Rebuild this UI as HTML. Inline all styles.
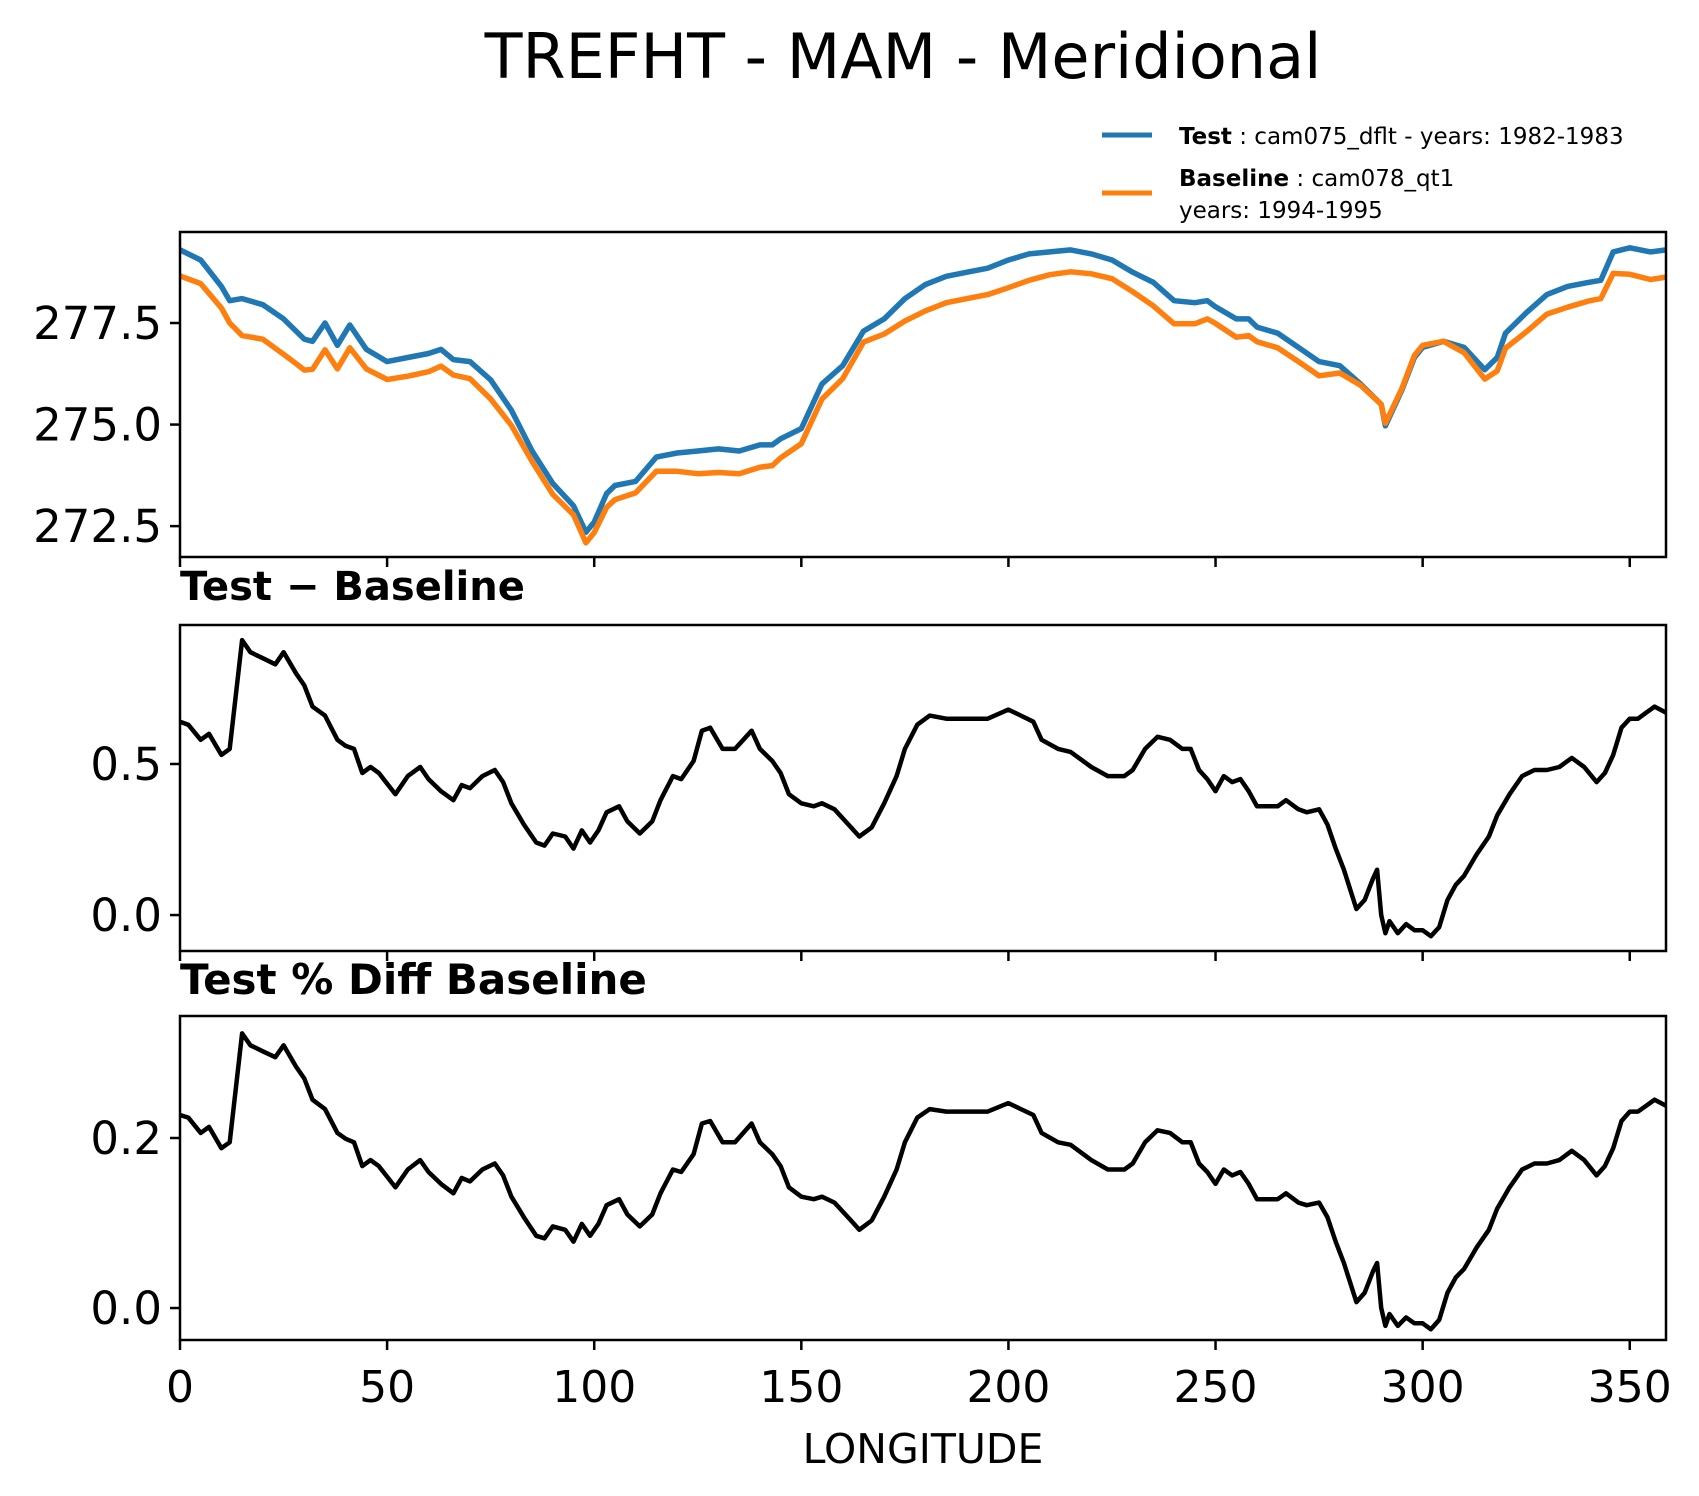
<!DOCTYPE html>
<html><head><meta charset="utf-8"><style>
html,body{margin:0;padding:0;background:#fff}
svg{display:block;font-family:"DejaVu Sans","Liberation Sans",sans-serif}
</style></head><body>
<svg id="fig" width="1699" height="1496" viewBox="0 0 1699 1496" xmlns="http://www.w3.org/2000/svg">
<rect width="1699" height="1496" fill="#fff"/>
<text x="903" y="78" text-anchor="middle" font-size="62">TREFHT - MAM - Meridional</text>
<g>
<line x1="1102" y1="135" x2="1152" y2="135" stroke="#1f77b4" stroke-width="5"/>
<text x="1179" y="144" font-size="23"><tspan font-weight="bold">Test</tspan> : cam075_dflt - years: 1982-1983</text>
<line x1="1102" y1="193" x2="1152" y2="193" stroke="#ff7f0e" stroke-width="5"/>
<text x="1179" y="186" font-size="23"><tspan font-weight="bold">Baseline</tspan> : cam078_qt1</text>
<text x="1179" y="218" font-size="23">years: 1994-1995</text>
</g>
<text x="180" y="600" font-size="40" font-weight="bold">Test − Baseline</text>
<text x="180" y="994" font-size="42" font-weight="bold">Test % Diff Baseline</text>
<text x="923" y="1463" text-anchor="middle" font-size="41">LONGITUDE</text>
<g id="plots"></g>
</svg>
<script>
const lonTop=[0,5,10,12,15,20,25,28,30,32,35,38,41,45,50,55,60,63,66,70,75,80,85,90,95,98,100,103,105,110,115,120,125,130,135,140,143,145,150,155,160,165,170,175,180,185,190,195,200,205,210,215,220,225,230,235,240,245,248,250,255,258,260,265,270,275,280,285,290,291,295,298,300,305,310,315,318,320,325,330,335,340,343,346,350,355,358.75];
const testVals=[279.3,279.05,278.4,278.05,278.1,277.95,277.6,277.3,277.1,277.05,277.5,276.95,277.45,276.85,276.55,276.65,276.75,276.85,276.6,276.55,276.1,275.35,274.35,273.55,273.0,272.35,272.6,273.3,273.5,273.6,274.2,274.3,274.35,274.4,274.35,274.5,274.5,274.65,274.9,276.0,276.45,277.3,277.6,278.1,278.45,278.65,278.75,278.85,279.05,279.2,279.25,279.3,279.2,279.05,278.75,278.5,278.05,278.0,278.05,277.9,277.6,277.6,277.4,277.25,276.9,276.55,276.45,276.0,275.5,274.97,275.85,276.65,276.9,277.05,276.9,276.35,276.65,277.25,277.75,278.2,278.4,278.5,278.55,279.25,279.35,279.25,279.3];
const baseVals=[278.66,278.47,277.87,277.5,277.19,277.1,276.73,276.5,276.34,276.36,276.84,276.37,276.89,276.37,276.11,276.19,276.3,276.44,276.22,276.13,275.63,274.98,274.09,273.28,272.78,272.09,272.34,272.96,273.15,273.32,273.85,273.85,273.79,273.82,273.79,273.95,273.99,274.18,274.53,275.63,276.13,277.03,277.23,277.55,277.8,278.0,278.1,278.2,278.37,278.55,278.69,278.76,278.71,278.59,278.27,277.92,277.48,277.48,277.6,277.49,277.15,277.19,277.04,276.89,276.55,276.2,276.27,275.97,275.5,275.03,275.89,276.7,276.95,277.05,276.77,276.12,276.32,276.88,277.28,277.72,277.89,278.04,278.1,278.72,278.7,278.57,278.63];
const lonDiff=[0,2,5,7,10,12,15,17,20,23,25,28,30,32,35,38,40,42,44,46,48,52,55,58,60,63,66,68,70,73,76,78,80,83,86,88,90,93,95,97,99,101,103,106,108,111,114,116,119,121,124,126,128,131,134,136,138,140,143,145,147,150,153,155,158,162,164,167,170,173,175,178,181,185,190,195,200,203,206,208,212,215,220,224,228,230,233,236,239,242,244,246,248,250,252,254,256,258,260,262,265,267,270,272,275,277,279,281,284,286,288,289,290,291,292,294,296,298,300,302,304,306,308,310,313,316,318,321,324,327,330,333,336,339,342,344,346,348,350,352,354,356,358.75];
const diffVals=[.64,.63,.58,.6,.53,.55,.91,.87,.85,.83,.87,.8,.76,.69,.66,.58,.56,.55,.47,.49,.47,.4,.46,.49,.45,.41,.38,.43,.42,.46,.48,.44,.37,.3,.24,.23,.27,.26,.22,.28,.24,.28,.34,.36,.31,.27,.31,.38,.46,.45,.51,.61,.62,.55,.55,.58,.61,.55,.51,.47,.4,.37,.36,.37,.35,.29,.26,.29,.37,.46,.55,.63,.66,.65,.65,.65,.68,.66,.64,.58,.55,.54,.49,.46,.46,.48,.55,.59,.58,.55,.55,.48,.45,.41,.46,.44,.45,.41,.36,.36,.36,.38,.35,.34,.35,.3,.22,.15,.02,.05,.12,.15,0,-.06,-.02,-.06,-.03,-.05,-.05,-.07,-.04,.05,.1,.13,.2,.26,.33,.4,.46,.48,.48,.49,.52,.49,.44,.47,.53,.62,.65,.65,.67,.69,.67];
const pctVals=[.227,.224,.206,.213,.188,.195,.323,.309,.302,.295,.309,.284,.27,.245,.234,.206,.199,.195,.167,.174,.167,.142,.163,.174,.16,.146,.135,.153,.149,.163,.17,.156,.131,.107,.085,.082,.096,.092,.078,.099,.085,.099,.121,.128,.11,.096,.11,.135,.163,.16,.181,.217,.22,.195,.195,.206,.217,.195,.181,.167,.142,.131,.128,.131,.124,.103,.092,.103,.131,.163,.195,.224,.234,.231,.231,.231,.241,.234,.227,.206,.195,.192,.174,.163,.163,.17,.195,.209,.206,.195,.195,.17,.16,.146,.163,.156,.16,.146,.128,.128,.128,.135,.124,.121,.124,.107,.078,.053,.007,.018,.043,.053,0,-.021,-.007,-.021,-.011,-.018,-.018,-.025,-.014,.018,.036,.046,.071,.092,.117,.142,.163,.17,.17,.174,.185,.174,.156,.167,.188,.22,.231,.231,.238,.245,.238];
const xTicks=[0,50,100,150,200,250,300,350];
const topTicks=[272.5,275.0,277.5];
const diffTicks=[0.0,0.5];
const pctTicks=[0.0,0.2];

const NS="http://www.w3.org/2000/svg";
const root=document.getElementById('plots');
const X0=180,X1=1666,XMIN=0,XMAX=358.75;
const xs=v=>X0+(v-XMIN)/(XMAX-XMIN)*(X1-X0);
function mk(tag,attrs,parent){const e=document.createElementNS(NS,tag);for(const k in attrs)e.setAttribute(k,attrs[k]);(parent||root).appendChild(e);return e;}
function panel(name,top,bottom,ymin,ymax,ticks,fmt,series,showXLabels){
  const g=mk('g',{});
  
  
  const ys=v=>bottom-(v-ymin)/(ymax-ymin)*(bottom-top);
  series.forEach(s=>{
    const d=s.x.map((v,i)=>(i?'L':'M')+xs(v).toFixed(1)+','+ys(s.y[i]).toFixed(1)).join('');
    const p=mk('path',{d:d,fill:'none',stroke:s.color,'stroke-width':s.w,'stroke-linejoin':'round'},g);
    
    
  });
  ticks.forEach(t=>{
    const y=ys(t);
    const l=mk('line',{x1:X0-10,x2:X0,y1:y,y2:y,stroke:'#000','stroke-width':2.5},g);
    
    
    const tx=mk('text',{x:X0-18,y:y+16,'text-anchor':'end','font-size':45},g);
    
    
    tx.textContent=fmt(t);
  });
  xTicks.forEach(t=>{
    const x=xs(t);
    const l=mk('line',{x1:x,x2:x,y1:bottom,y2:bottom+10,stroke:'#000','stroke-width':2.5},g);
    
    
    if(showXLabels){
      const tx=mk('text',{x:x,y:bottom+62,'text-anchor':'middle','font-size':44},g);
      
      
      tx.textContent=t;
    }
  });
  const r=mk('rect',{x:X0,y:top,width:X1-X0,height:bottom-top,fill:'none',stroke:'#000','stroke-width':2.5},g);
  
  
}
panel('temperature',232,557,271.74,279.74,topTicks,v=>v.toFixed(1),[
  {name:'test-line',x:lonTop,y:testVals,color:'#1f77b4',w:5.5},
  {name:'baseline-line',x:lonTop,y:baseVals,color:'#ff7f0e',w:5.5}],false);
panel('difference',625,951,-0.119,0.96,diffTicks,v=>v.toFixed(1),[
  {name:'difference-line',x:lonDiff,y:diffVals,color:'#000',w:4.5}],false);
panel('percent-difference',1016,1340,-0.0376,0.3435,pctTicks,v=>v.toFixed(1),[
  {name:'percent-difference-line',x:lonDiff,y:pctVals,color:'#000',w:4.5}],true);
</script>
</body></html>
